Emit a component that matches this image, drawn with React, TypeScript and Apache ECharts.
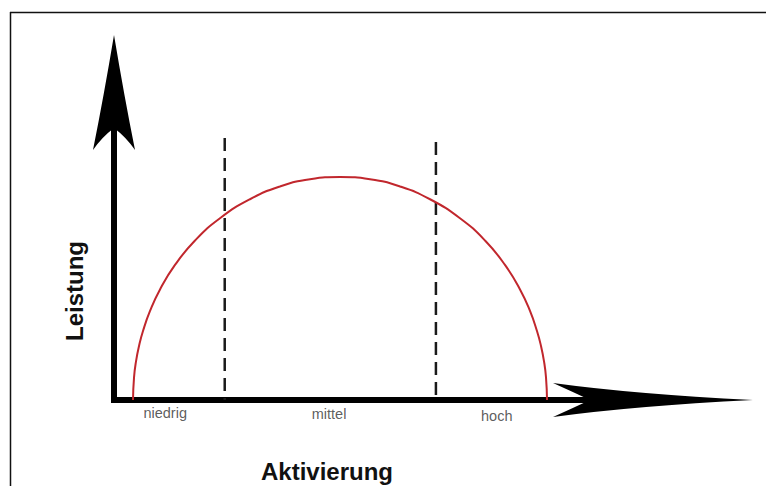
import React, { useEffect, useRef } from "react";
import * as echarts from "echarts";

// Curve (Leistung über Aktivierung)
const curveX = [2.97, 3.13, 3.44, 3.91, 4.53, 5.63, 7.19, 9.53, 12.66, 16.56, 21.25, 25.94, 30.63, 35.31, 40.0, 44.69, 49.38, 54.06, 57.97, 61.09, 63.44, 65.0, 66.09, 66.72, 67.19, 67.5, 67.66];
const curveY = [0, 6.2, 10.6, 14.8, 18.9, 24.4, 30.3, 37.0, 43.7, 49.8, 55.0, 58.5, 60.5, 61.1, 60.5, 58.5, 55.0, 49.8, 43.7, 37.0, 30.3, 24.4, 18.9, 14.8, 10.6, 6.2, 0];

// Dashed boundaries between zones
const boundaryX = [17.3, 50.3];
const boundaryTop = [71.8, 70.7];

// Zone labels
const zoneNames = ["niedrig", "mittel", "hoch"];
const zoneLabelX = [8.0, 33.6, 59.8];
const zoneLabelY = [-3.6, -3.8, -4.4];

const xTitle = "Aktivierung";
const yTitle = "Leistung";

const xArrowD = "M0 0 Q-120 -6 -200 -17 Q-180 -8 -163 0 Q-180 8 -200 17 Q-120 6 0 0 Z";
const yArrowD = "M0 0 Q-10 60 -21 115 Q-12 102 0 93 Q12 102 21 115 Q10 60 0 0 Z";

let registered = false;
function registerShapes() {
  if (registered) return;
  echarts.graphic.registerShape("xarrow", echarts.graphic.extendPath(xArrowD, {}));
  echarts.graphic.registerShape("yarrow", echarts.graphic.extendPath(yArrowD, {}));
  registered = true;
}

export default function App() {
  const ref = useRef<HTMLDivElement>(null);
  useEffect(() => {
    if (!ref.current) return;
    registerShapes();
    const chart = echarts.init(ref.current, null, { renderer: "svg" });
    const curve = curveX.map((x, i) => [x, curveY[i]]);
    const boundarySeries = boundaryX.map((x, i) => ({
      type: "line",
      data: [[x, boundaryTop[i]], [x, 0]],
      symbol: "none",
      lineStyle: { color: "#1a1a1a", width: 2.5, type: [13, 7] },
      z: 3,
    }));
    chart.setOption({
      animation: false,
      backgroundColor: "#ffffff",
      grid: { left: 114, right: 165.6, top: 122.6, bottom: 86 },
      xAxis: {
        type: "value",
        min: 0,
        max: 76,
        axisLine: { show: true, lineStyle: { color: "#000", width: 6, cap: "square" } },
        axisTick: { show: false },
        axisLabel: { show: false },
        splitLine: { show: false },
      },
      yAxis: {
        type: "value",
        min: 0,
        max: 76,
        axisLine: { show: true, lineStyle: { color: "#000", width: 6, cap: "square" } },
        axisTick: { show: false },
        axisLabel: { show: false },
        splitLine: { show: false },
      },
      series: [
        {
          type: "line",
          data: curve,
          smooth: 0.5,
          symbol: "none",
          lineStyle: { color: "#c1272d", width: 2 },
          z: 4,
        },
        ...boundarySeries,
        {
          type: "scatter",
          clip: false,
          symbolSize: 0,
          data: zoneNames.map((n, i) => ({ value: [zoneLabelX[i], zoneLabelY[i]], name: n })),
          label: {
            show: true,
            position: "inside",
            formatter: (p: any) => p.name,
            color: "#333",
            fontSize: 14.5,
            fontFamily: "'Liberation Sans', Arial, sans-serif",
          },
        },
      ],
      graphic: [
        { type: "line", shape: { x1: 10.5, y1: 12, x2: 10.5, y2: 486 }, style: { stroke: "#111", lineWidth: 1.5 } },
        { type: "line", shape: { x1: 10, y1: 12.5, x2: 766, y2: 12.5 }, style: { stroke: "#111", lineWidth: 1.5 } },
        { type: "xarrow", x: 753, y: 400, style: { fill: "#000" }, z: 100 },
        { type: "yarrow", x: 114, y: 35, style: { fill: "#000" }, z: 100 },
        {
          type: "text",
          x: 327,
          y: 471,
          style: {
            text: xTitle,
            align: "center",
            verticalAlign: "middle",
            font: "bold 24px 'Liberation Sans', Arial, sans-serif",
            fill: "#111",
          },
        },
        {
          type: "text",
          x: 74,
          y: 291,
          rotation: Math.PI / 2,
          style: {
            text: yTitle,
            align: "center",
            verticalAlign: "middle",
            font: "bold 24px 'Liberation Sans', Arial, sans-serif",
            fill: "#111",
          },
        },
      ],
    });
    return () => chart.dispose();
  }, []);
  return (
    <div
      ref={ref}
      style={{ position: "absolute", left: 0, top: 0, width: 766, height: 486, background: "#fff" }}
    />
  );
}
